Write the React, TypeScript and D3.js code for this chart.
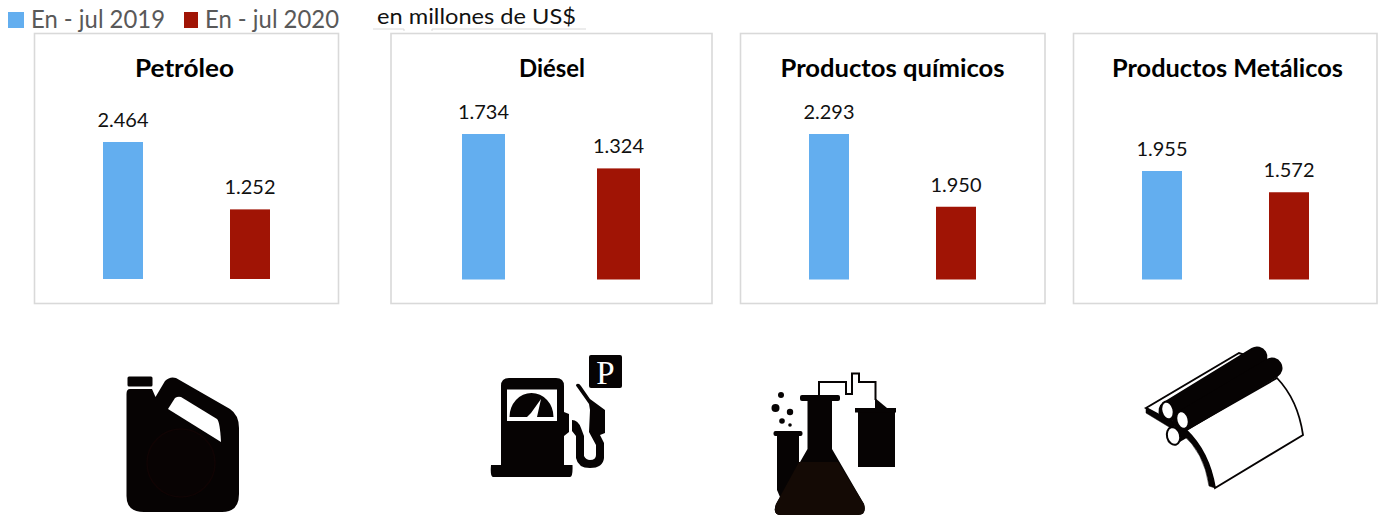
import React from "react";
import * as d3 from "d3";

const panelTitles = ["Petróleo", "Diésel", "Productos químicos", "Productos Metálicos"];
const seriesNames = ["En - jul 2019", "En - jul 2020"];
const values2019 = [2464, 1734, 2293, 1955];
const values2020 = [1252, 1324, 1950, 1572];
const axisFloors = [0, 0, 1607, 0];

const BLUE = "#63aeef";
const RED = "#a01405";
const FONT = "Lato, 'Open Sans', sans-serif";
const fmt = (v: number) => d3.format(",")(v).replace(",", ".");

const panelBoxes = [
  { x: 34.5, w: 304, l: 103, r: 270, bw: 40, top: 142, bottom: 279, tc: 184.5, tw: 99 },
  { x: 391, w: 321, l: 462, r: 640, bw: 43, top: 134, bottom: 279.5, tc: 552, tw: 66 },
  { x: 740.5, w: 304.5, l: 809, r: 976, bw: 40, top: 134, bottom: 279.5, tc: 892.5, tw: 224 },
  { x: 1073.5, w: 303.5, l: 1142, r: 1309, bw: 40, top: 171, bottom: 279.5, tc: 1227.5, tw: 231 },
];
const labelWidth = 51;

function Panel({ i }: { i: number }) {
  const b = panelBoxes[i];
  const vals = [values2019[i], values2020[i]];
  const x = d3.scaleBand<string>().domain(seriesNames).range([b.l, b.r]).paddingInner(1 - b.bw / (b.r - b.l - b.bw));
  const y = d3.scaleLinear().domain([axisFloors[i], d3.max(vals) as number]).range([b.bottom, b.top]);
  return (
    <g>
      <rect x={b.x} y={33.5} width={b.w} height={270} fill="#fff" stroke="#d9d9d9" strokeWidth={1.6} />
      <text x={b.tc} y={77} textAnchor="middle" fontFamily={FONT} fontWeight={700} fontSize={24} fill="#000"
        textLength={b.tw} lengthAdjust="spacingAndGlyphs">{panelTitles[i]}</text>
      {vals.map((v, k) => {
        const n = seriesNames[k];
        return (
          <g key={n}>
            <rect x={x(n)} y={y(v)} width={x.bandwidth()} height={b.bottom - y(v)} fill={k === 0 ? BLUE : RED} />
            <text x={(x(n) as number) + x.bandwidth() / 2} y={y(v) - 15} textAnchor="middle" fontFamily={FONT}
              fontSize={20} fill="#111" textLength={labelWidth} lengthAdjust="spacingAndGlyphs">{fmt(v)}</text>
          </g>
        );
      })}
    </g>
  );
}

const INK = "#060303";

function JugIcon() {
  return (
    <g fill={INK}>
      <rect x={127.5} y={376.5} width={25} height={10} rx={1.5} />
      <path d="M126.5 394 Q126.5 389 130 389 L152 389 L155.5 397 L165 381 Q170 376 176 378 L230 409 Q239 415 239 428 L239 494 Q239 512 222 512 L144 512 Q126.5 512 126.5 496 Z" />
      <path d="M181 397 L217 419 Q220 422 221 442 L168 409 L175 398 Q178 396 181 397 Z" fill="#fff" />
      <circle cx={181} cy={463} r={34} fill="#080303" stroke="#100404" strokeWidth={1.5} />
    </g>
  );
}

function PumpIcon() {
  return (
    <g fill={INK}>
      <rect x={589} y={355} width={33} height={33} rx={2} />
      <text x={605.5} y={384} textAnchor="middle" fontFamily="'Liberation Serif', serif" fontSize={33} fill="#fff">P</text>
      <path d="M501 386 Q501 378 509 378 L556 378 Q564 378 564 386 L564 412 L569 414 L569 432 L564 436 L564 465 L572.5 465 Q573 477 570 477 L493 477 Q490 477 491 465 L501 465 Z" />
      <rect x={507} y={389.5} width={50} height={31.5} fill="#fff" />
      <path d="M509.5 417 A22 24 0 0 1 553.5 417 L537 417 L541 399 L531 413 L527 417 Z" />
      <path d="M577 387 Q575 385 577 384 Q579 383 581 386 L590 399 L605 410 L605 433 L600 435 L604 443 L604 458 Q603 468 590 468 Q578 468 576 458 L576 436 L572 431 L572 420 Q578 420 581 428 L584 436 L584 456 Q586 460 590 460 Q596 460 596 455 L596 445 L589 432 L590 410 L589 404 Z" />
    </g>
  );
}

function LabIcon() {
  return (
    <g fill={INK}>
      <path d="M777 436 L799 436 L799 480 L780 497 L777 490 Z" />
      <rect x={773.5} y={431} width={29} height={5} rx={2} />
      <path d="M807.5 400 L832 400 L832 449 L864 504 Q867 515 858 515 L781 515 Q772 515 776 504 L807.5 449 Z" />
      <path d="M799 462 L838 462 L864 504 Q867 515 858 515 L781 515 Q772 515 776 504 Z" fill="#140a05" />
      <rect x={800} y={395} width={40} height={6} rx={2} />
      <rect x={858} y={410} width={37} height={57} />
      <rect x={855} y={408} width={41} height={4.5} />
      <path d="M875 398 L887 408 L875 408 Z" />
      <path d="M819 395 L819 382 L846 382 L846 394 L852 394 L852 373.5 L859 373.5 L859 382 L875.5 382 L875.5 400" fill="none" stroke={INK} strokeWidth={2} />
      <circle cx={781} cy={395} r={3} />
      <circle cx={775.5} cy={408} r={4} />
      <circle cx={790} cy={412} r={3.2} />
      <circle cx={782} cy={421} r={2.8} />
      <circle cx={790} cy={425} r={1.8} />
    </g>
  );
}

function RollIcon() {
  return (
    <g stroke={INK} fill="none">
      <path d="M1186 430 L1277 378 Q1298 400 1303 435 L1215 488 Q1209 452 1186 430 Z" fill="#fff" strokeWidth={1.8} />
      <path d="M1186 430 Q1209 452 1215 488 L1209 486 Q1204 452 1182 434 Z" fill={INK} strokeWidth={0.5} />
      <path d="M1146 408 L1239 353 L1262 360 L1174 423 Z" fill="#fff" strokeWidth={2} />
      <path d="M1146 408 L1146 413 L1174 430 L1174 423 Z" fill={INK} strokeWidth={0.5} />
      <line x1={1174} y1={436} x2={1186} y2={429} strokeWidth={16} />
      <ellipse cx={1173.5} cy={436} rx={6.5} ry={9} transform="rotate(-15 1173.5 436)" fill="#fff" strokeWidth={2} />
      <line x1={1169} y1={411} x2={1257} y2={357} strokeWidth={21} strokeLinecap="round" />
      <line x1={1183} y1={421} x2={1272} y2={368} strokeWidth={21} strokeLinecap="round" />
      <ellipse cx={1167.5} cy={410.5} rx={6} ry={9} transform="rotate(-15 1167.5 410.5)" fill="#fff" strokeWidth={2} />
      <ellipse cx={1182.5} cy={420} rx={6} ry={9} transform="rotate(-15 1182.5 420)" fill="#fff" strokeWidth={2} />
    </g>
  );
}

export default function App() {
  return (
    <svg width={1379} height={516} style={{ position: "absolute", left: 0, top: 0, background: "#fff" }}>
      <rect x={8} y={12} width={16} height={16} fill={BLUE} />
      <text x={31} y={27.5} fontFamily={FONT} fontSize={25} fill="#595959" textLength={134} lengthAdjust="spacingAndGlyphs">{seriesNames[0]}</text>
      <rect x={184} y={12} width={14} height={16} fill={RED} />
      <text x={205} y={27.5} fontFamily={FONT} fontSize={25} fill="#595959" textLength={134} lengthAdjust="spacingAndGlyphs">{seriesNames[1]}</text>
      <text x={377} y={24} fontFamily={FONT} fontSize={22} fill="#111" textLength={199} lengthAdjust="spacingAndGlyphs">en millones de US$</text>
      <path d="M373 29 L404 29 L404 31 M432 31 L432 29 L586 29" fill="none" stroke="#d9d9d9" strokeWidth={1} />
      {panelTitles.map((t, i) => <Panel key={t} i={i} />)}
      <JugIcon />
      <PumpIcon />
      <LabIcon />
      <RollIcon />
    </svg>
  );
}
